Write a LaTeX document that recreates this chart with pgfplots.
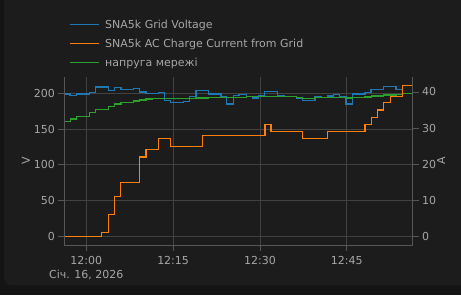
\documentclass[border=0pt]{standalone}
\usepackage{fontspec}
\setmainfont{DejaVu Sans}
\usepackage{pgfplots}
\pgfplotsset{compat=1.18}
\definecolor{bg}{HTML}{1C1C1C}
\definecolor{outerc}{HTML}{141414}
\definecolor{gridc}{HTML}{424242}
\definecolor{axc}{HTML}{575757}
\definecolor{txt}{HTML}{A6A6A6}
\definecolor{vblue}{HTML}{1F77B4}
\definecolor{aorange}{HTML}{FF7F0E}
\definecolor{vgreen}{HTML}{2CA02C}
\pgfplotsset{
  myax/.style={
    scale only axis, width=348.4pt, height=168.3pt,
    at={(64.3pt,50pt)}, anchor=south west,
    xmin=-3.80, xmax=56.40,
    tick align=outside, major tick length=6pt,
    axis line style={axc, line width=0.8pt, -},
    tick style={axc, line width=0.8pt},
    ticklabel style={txt, font=\fontsize{11}{13}\selectfont},
    label style={txt, font=\fontsize{11}{13}\selectfont},
    /pgf/number format/assume math mode=true,
  }
}
\begin{document}
\begin{tikzpicture}
\useasboundingbox (0,0) rectangle (461pt,295pt);
\fill[outerc] (0,0) rectangle (461pt,295pt);
\fill[bg, rounded corners=6pt] (4pt,10pt) rectangle (475pt,305pt);
\begin{axis}[myax,
  ymin=-12.1, ymax=223.3,
  ytick={0,50,...,200},
  xtick={0,15,30,45}, xticklabels={12:00,12:15,12:30,12:45},
  grid=major, grid style={gridc, line width=0.8pt},
  axis x line*=bottom, axis y line*=left,
  ylabel={V}, ylabel shift=-3pt,
  xticklabel shift=1.5pt,
]
\addplot[draw=vblue, line width=1.2pt, const plot] coordinates {
(-3.7,199)(-2.82,197)(-1.66,199)(0.52,201)(1.62,209)(3.80,204)(4.84,208)(6.00,205)(8.12,207)(9.16,202)(10.32,199.5)(12.44,201)(13.48,190)(14.58,187.5)(16.76,189)(17.87,196)(18.96,204)(21.08,199)(23.28,195.5)(24.26,185)(25.40,197)(26.39,198.6)(27.72,195.5)(28.68,193.5)(29.72,197)(30.76,203)(33.07,197)(34.16,196)(36.36,193.5)(37.39,190)(39.52,195)(40.56,194)(41.65,196.3)(42.75,198.2)(43.79,195.4)(44.88,185)(45.96,199)(48.15,201.4)(49.20,205)(51.39,210)(53.52,205)(54.61,199.5)(56.35,199.5)
};
\addplot[draw=vgreen, line width=1.2pt, const plot] coordinates {
(-3.7,160.4)(-2.70,164)(-1.66,168)(0.52,173.4)(1.62,177)(3.80,182)(4.84,185)(6.00,187.4)(8.12,189.3)(9.16,190.7)(10.32,192)(11.40,193)(16.76,192.5)(18.96,193.5)(21.08,194)(27.72,195.4)(36.36,194)(37.39,192.5)(39.52,194)(44.88,193.5)(45.96,194)(48.15,195)(49.25,196.3)(51.39,197.7)(53.52,198.6)(54.61,200)(56.35,200)
};
\end{axis}
\begin{axis}[myax,
  ymin=-2.41, ymax=44.24,
  ytick={0,10,...,40},
  axis y line*=right, axis x line=none,
  ylabel={A}, ylabel shift=-6pt,
]
\addplot[draw=aorange, line width=1.2pt, const plot] coordinates {
(-3.7,0)(2.66,1)(3.80,6)(4.84,11)(5.94,15)(9.16,22)(10.32,24)(12.51,27)(14.58,25)(20.04,28)(30.88,31)(31.92,29)(37.39,27)(41.65,29)(48.15,31)(49.25,33)(50.35,35)(51.39,37)(52.53,38.7)(54.61,41.85)(56.35,41.85)
};
\end{axis}
% legend
\begin{scope}[font=\fontsize{11}{13}\selectfont]
\draw[vblue, line width=1pt] (70pt,270.7pt) -- (99.3pt,270.7pt);
\node[txt, anchor=base west, inner sep=0pt] at (105pt,266.4pt) {SNA5k Grid Voltage};
\draw[aorange, line width=1pt] (70pt,251.7pt) -- (99.3pt,251.7pt);
\node[txt, anchor=base west, inner sep=0pt] at (105pt,247.4pt) {SNA5k AC Charge Current from Grid};
\draw[vgreen, line width=1pt] (70pt,232.3pt) -- (99.3pt,232.3pt);
\node[txt, anchor=base west, inner sep=0pt] at (105pt,228.0pt) {напруга мережі};
\end{scope}
\node[txt, font=\fontsize{11}{13}\selectfont] at (86.3pt,20pt) {Січ. 16, 2026};
\end{tikzpicture}
\end{document}
